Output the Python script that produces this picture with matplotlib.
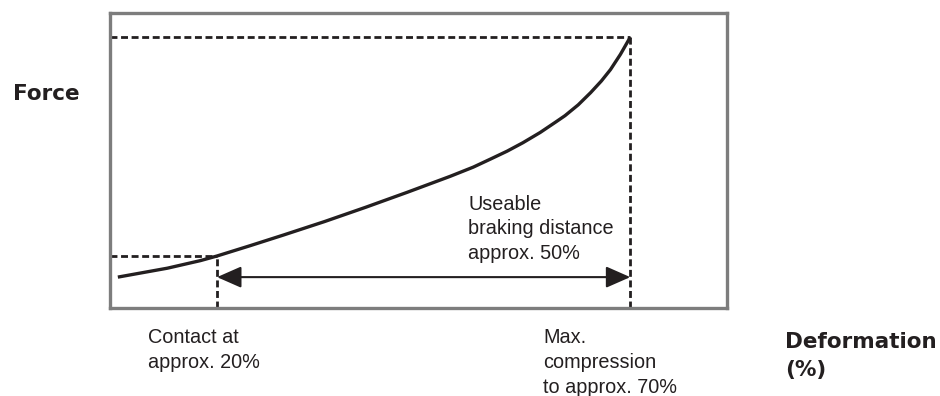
import matplotlib.pyplot as plt

# deformation (%) vs force (relative, 100 = force at max compression)
deform = [8.0, 14.0, 18.0, 20.0, 24.0, 28.0, 33.0, 38.0, 43.0, 48.2, 51.0, 53.1, 55.1, 57.0, 59.1,
          61.0, 62.1, 63.7, 65.2, 66.5, 67.6, 68.8, 70.0]
force = [11.4, 14.7, 17.5, 19.2, 23.0, 26.9, 31.9, 37.2, 42.7, 48.6, 52.0, 55.0, 57.9, 61.0, 64.8,
         68.7, 71.0, 75.0, 79.5, 83.8, 88.0, 93.6, 100.0]

contact_x = 20.0
contact_f = 19.2
max_x = 70.0
max_f = 100.0
arrow_f = 11.4

x_lim = (7.05, 81.7)
f_lim = (0.0, 108.9)

ink = '#231f20'
grey = '#7d7d7d'

W, H = 940, 396
fig = plt.figure(figsize=(W / 100, H / 100), dpi=100)
ax = fig.add_axes([110 / W, 1 - 308 / H, (727 - 110) / W, (308 - 13) / H])
ax.set_xlim(x_lim)
ax.set_ylim(f_lim)
ax.set_xticks([])
ax.set_yticks([])
for s in ax.spines.values():
  s.set_color(grey)
  s.set_linewidth(2.4)

# curve
ax.plot(deform, force, color=ink, lw=2.4, solid_capstyle='butt',
        solid_joinstyle='round', zorder=3)

# dashed guide lines
dash = dict(color=ink, lw=2.0, ls=(0, (2.5, 1.3)), zorder=2)
ax.plot([x_lim[0], contact_x], [contact_f, contact_f], **dash)
ax.plot([contact_x, contact_x], [0, contact_f], **dash)
ax.plot([x_lim[0], max_x], [max_f, max_f], **dash)
ax.plot([max_x, max_x], [0, max_f], **dash)

# usable braking distance arrow
ax.annotate('', xy=(max_x, arrow_f), xytext=(contact_x, arrow_f),
            arrowprops=dict(arrowstyle='<|-|>,head_length=0.75,head_width=0.33',
                            color=ink, lw=1.5, shrinkA=0, shrinkB=0,
                            mutation_scale=20))

def put(px, py, txt, bold=False):
  if bold:
    fig.text(px / W, 1 - py / H, txt, fontsize=15.5, fontweight='bold',
             family='DejaVu Sans', color=ink, va='baseline', ha='left')
  else:
    fig.text(px / W, 1 - py / H, txt, fontsize=14.3,
             family='Liberation Sans', color=ink, va='baseline', ha='left')

put(13, 100, 'Force', bold=True)
put(785, 348, 'Deformation', bold=True)
put(785, 376, '(%)', bold=True)

for i, line in enumerate(['Contact at', 'approx. 20%']):
  put(148, 343 + 25 * i, line)
for i, line in enumerate(['Max.', 'compression', 'to approx. 70%']):
  put(543, 343 + 25 * i, line)
for i, line in enumerate(['Useable', 'braking distance', 'approx. 50%']):
  put(468, 210 + 24.5 * i, line)

plt.savefig('out.png', dpi=100)
plt.close()
